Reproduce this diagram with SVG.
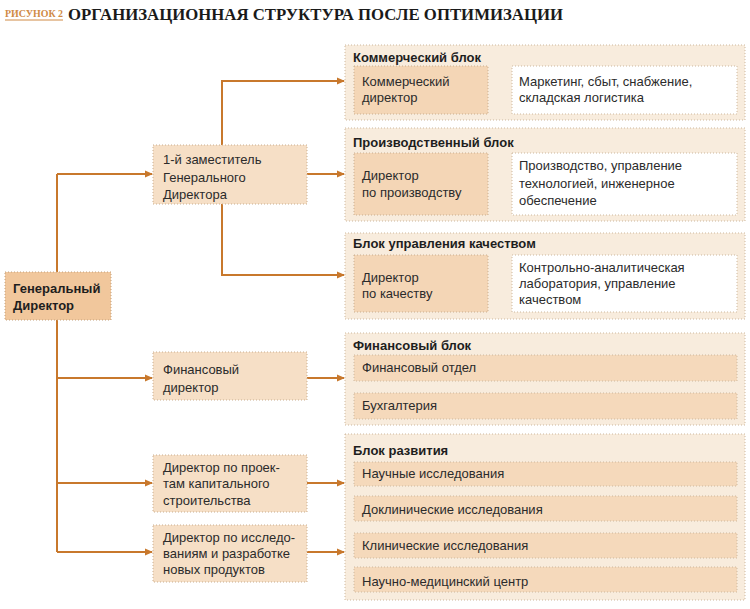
<svg xmlns="http://www.w3.org/2000/svg" width="750" height="609" viewBox="0 0 750 609">
<defs>
<marker id="ah" markerWidth="8" markerHeight="8" refX="7" refY="4" orient="auto" markerUnits="userSpaceOnUse">
<path d="M0,0.5 L8,4 L0,7.5 Z" fill="#c8782c"/>
</marker>
<style>
.t{font-family:"Liberation Sans",Arial,sans-serif;font-size:13px;fill:#2b2b2b}
.b{font-family:"Liberation Sans",Arial,sans-serif;font-size:13px;font-weight:bold;fill:#1e1e1e}
.blk{fill:#f8ecdd;stroke:#cdb89e;stroke-width:1;stroke-dasharray:1 2}
.dir{fill:#f4d6b6;stroke:#c9ae90;stroke-width:1;stroke-dasharray:1 2}
.mid{fill:#f6dfc6;stroke:#c9ae90;stroke-width:1;stroke-dasharray:1 2}
.gen{fill:#f1c79c;stroke:#c2a07c;stroke-width:1;stroke-dasharray:1 2}
.wht{fill:#ffffff;stroke:#cdb89e;stroke-width:1;stroke-dasharray:1 2}
.sub{fill:#f5d9bb;stroke:#cdb89e;stroke-width:1;stroke-dasharray:1 2}
.ln{fill:none;stroke:#c8782c;stroke-width:2}
</style>
</defs>
<rect width="750" height="609" fill="#ffffff"/>
<g id="title">
<text x="5" y="17" font-family="'Liberation Serif',serif" font-size="10" font-weight="bold" fill="#d08a45" textLength="58" lengthAdjust="spacingAndGlyphs">РИСУНОК 2</text>
<line x1="5" y1="20" x2="63" y2="20" stroke="#d08a45" stroke-width="1"/>
<text x="68" y="20" font-family="'Liberation Serif',serif" font-size="17" font-weight="bold" fill="#1a1a1a" textLength="495" lengthAdjust="spacingAndGlyphs">ОРГАНИЗАЦИОННАЯ СТРУКТУРА ПОСЛЕ ОПТИМИЗАЦИИ</text>
</g>
<g id="connectors">
<polyline class="ln" points="57,552 57,174"/>
<line class="ln" x1="57" y1="174" x2="152" y2="174" marker-end="url(#ah)"/>
<line class="ln" x1="57" y1="378" x2="152" y2="378" marker-end="url(#ah)"/>
<line class="ln" x1="57" y1="483" x2="152" y2="483" marker-end="url(#ah)"/>
<line class="ln" x1="57" y1="552" x2="152" y2="552" marker-end="url(#ah)"/>
<polyline class="ln" points="222,145 222,81 344,81" marker-end="url(#ah)"/>
<polyline class="ln" points="222,204 222,275 344,275" marker-end="url(#ah)"/>
<line class="ln" x1="307" y1="174" x2="344" y2="174" marker-end="url(#ah)"/>
<line class="ln" x1="307" y1="378" x2="344" y2="378" marker-end="url(#ah)"/>
<line class="ln" x1="307" y1="483" x2="344" y2="483" marker-end="url(#ah)"/>
<line class="ln" x1="307" y1="552" x2="344" y2="552" marker-end="url(#ah)"/>
<line class="ln" x1="489" y1="88" x2="511" y2="88" marker-end="url(#ah)"/>
<line class="ln" x1="489" y1="183" x2="511" y2="183" marker-end="url(#ah)"/>
<line class="ln" x1="489" y1="284" x2="511" y2="284" marker-end="url(#ah)"/>
</g>
<g id="gen">
<rect class="gen" x="5" y="272" width="106" height="48"/>
<text class="b" x="13" y="293">Генеральный</text>
<text class="b" x="13" y="310">Директор</text>
</g>
<g id="deputy">
<rect class="mid" x="153" y="145" width="154" height="59"/>
<text class="t" x="163" y="164">1-й заместитель</text>
<text class="t" x="163" y="182">Генерального</text>
<text class="t" x="163" y="199">Директора</text>
</g>
<g id="findir">
<rect class="mid" x="153" y="352" width="154" height="48"/>
<text class="t" x="163" y="374">Финансовый</text>
<text class="t" x="163" y="392">директор</text>
</g>
<g id="capdir">
<rect class="mid" x="153" y="455" width="154" height="57"/>
<text class="t" x="163" y="472">Директор по проек-</text>
<text class="t" x="163" y="488">там капитального</text>
<text class="t" x="163" y="505">строительства</text>
</g>
<g id="rnddir">
<rect class="mid" x="153" y="525" width="154" height="57"/>
<text class="t" x="163" y="542">Директор по исследо-</text>
<text class="t" x="163" y="558">ваниям и разработке</text>
<text class="t" x="163" y="574">новых продуктов</text>
</g>
<g id="commercial">
<rect class="blk" x="345" y="45" width="400" height="75"/>
<text class="b" x="353" y="62">Коммерческий блок</text>
<rect class="dir" x="354" y="66" width="134" height="48"/>
<text class="t" x="362" y="86">Коммерческий</text>
<text class="t" x="362" y="102">директор</text>
<rect class="wht" x="512" y="66" width="225" height="48"/>
<text class="t" x="519" y="86">Маркетинг, сбыт, снабжение,</text>
<text class="t" x="519" y="102">складская логистика</text>
</g>
<g id="production">
<rect class="blk" x="345" y="128" width="400" height="93"/>
<text class="b" x="353" y="147">Производственный блок</text>
<rect class="dir" x="354" y="153" width="134" height="62"/>
<text class="t" x="362" y="180">Директор</text>
<text class="t" x="362" y="197">по производству</text>
<rect class="wht" x="512" y="153" width="225" height="62"/>
<text class="t" x="519" y="170">Производство, управление</text>
<text class="t" x="519" y="188">технологией, инженерное</text>
<text class="t" x="519" y="205">обеспечение</text>
</g>
<g id="quality">
<rect class="blk" x="345" y="233" width="400" height="86"/>
<text class="b" x="353" y="248">Блок управления качеством</text>
<rect class="dir" x="354" y="255" width="134" height="57"/>
<text class="t" x="362" y="282">Директор</text>
<text class="t" x="362" y="298">по качеству</text>
<rect class="wht" x="512" y="255" width="225" height="57"/>
<text class="t" x="519" y="272">Контрольно-аналитическая</text>
<text class="t" x="519" y="288">лаборатория, управление</text>
<text class="t" x="519" y="304">качеством</text>
</g>
<g id="finance">
<rect class="blk" x="345" y="333" width="400" height="92"/>
<text class="b" x="353" y="350">Финансовый блок</text>
<rect class="sub" x="354" y="355" width="383" height="26"/>
<text class="t" x="362" y="372">Финансовый отдел</text>
<rect class="sub" x="354" y="393" width="383" height="26"/>
<text class="t" x="362" y="410">Бухгалтерия</text>
</g>
<g id="development">
<rect class="blk" x="345" y="434" width="400" height="166"/>
<text class="b" x="353" y="455">Блок развития</text>
<rect class="sub" x="354" y="462" width="383" height="24"/>
<text class="t" x="362" y="478">Научные исследования</text>
<rect class="sub" x="354" y="496" width="383" height="25"/>
<text class="t" x="362" y="514">Доклинические исследования</text>
<rect class="sub" x="354" y="533" width="383" height="25"/>
<text class="t" x="362" y="550">Клинические исследования</text>
<rect class="sub" x="354" y="567" width="383" height="25"/>
<text class="t" x="362" y="586">Научно-медицинский центр</text>
</g>
</svg>
